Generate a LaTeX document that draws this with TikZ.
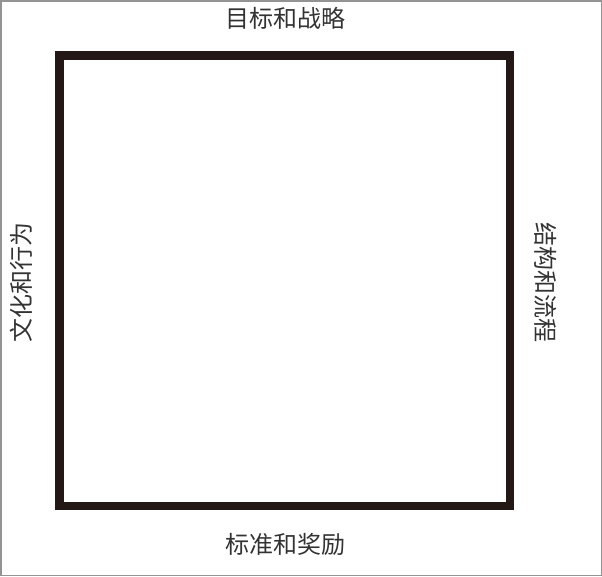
\documentclass[tikz,border=0pt]{standalone}
\usepackage{fontspec}
\newfontfamily\cjk{Noto Sans CJK SC}
\definecolor{framek}{HTML}{231815}
\definecolor{txt}{HTML}{333333}
\begin{document}
\begin{tikzpicture}[x=1pt,y=-1pt,
  lbl/.style={font=\cjk\fontsize{24}{27}\selectfont, text=txt, inner sep=0pt},
  boxline/.style={draw=framek, line width=8.5pt, line join=miter}]
\useasboundingbox (0,0) rectangle (602,576);
\draw[draw=gray!85, line width=1.5pt] (0.75,0.75) rectangle (601.25,575.25);
\coordinate (tl) at (59.5,55.5);
\coordinate (br) at (510,506);
\draw[boxline] (tl) rectangle (br);
\node[lbl] (top) at (285,18) {目标和战略};
\node[lbl] (bottom) at (285,544) {标准和奖励};
\node[lbl, rotate=90] (left) at (21,282) {文化和行为};
\node[lbl, rotate=-90] (right) at (546,282) {结构和流程};
\end{tikzpicture}
\end{document}
